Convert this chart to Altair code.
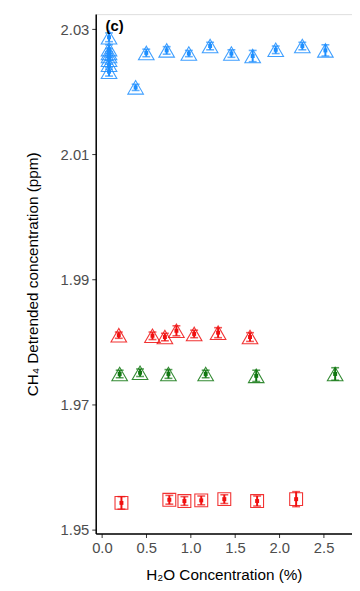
import altair as alt
import pandas as pd

# Blue triangles
blue_x = [0.08, 0.08, 0.08, 0.08, 0.08, 0.08, 0.08, 0.38, 0.50, 0.73, 0.98, 1.22, 1.46, 1.70, 1.96, 2.26, 2.52]
blue_y = [2.0287, 2.0268, 2.0262, 2.0257, 2.0251, 2.0243, 2.0232, 2.0207, 2.0262, 2.0266, 2.0261, 2.0273, 2.0261, 2.0257, 2.0267, 2.0273, 2.0266]
blue_e = [0.0007, 0.0007, 0.0007, 0.0007, 0.0007, 0.0007, 0.0007, 0.0005, 0.0006, 0.0006, 0.0005, 0.0006, 0.0006, 0.0009, 0.0006, 0.0006, 0.0009]

# Red triangles
redt_x = [0.19, 0.57, 0.71, 0.84, 1.04, 1.31, 1.67]
redt_y = [1.9811, 1.9810, 1.9808, 1.9818, 1.9813, 1.9815, 1.9808]
redt_e = [0.0005, 0.0006, 0.0006, 0.0008, 0.0006, 0.0008, 0.0007]

# Green triangles
green_x = [0.20, 0.43, 0.75, 1.17, 1.74, 2.63]
green_y = [1.9749, 1.9751, 1.9749, 1.9749, 1.9746, 1.9749]
green_e = [0.0006, 0.0006, 0.0007, 0.0006, 0.0009, 0.0010]

# Red squares
reds_x = [0.22, 0.76, 0.93, 1.12, 1.38, 1.75, 2.19]
reds_y = [1.9543, 1.9548, 1.9546, 1.9547, 1.9549, 1.9546, 1.9549]
reds_e = [0.0010, 0.0007, 0.0007, 0.0007, 0.0007, 0.0008, 0.0012]

groups = [
    ("blue", blue_x, blue_y, blue_e, "triangle-up", "#1E8FFF"),
    ("redt", redt_x, redt_y, redt_e, "triangle-up", "#F01010"),
    ("green", green_x, green_y, green_e, "triangle-up", "#117711"),
    ("reds", reds_x, reds_y, reds_e, "square", "#F01010"),
]

rows = []
for name, xs, ys, es, shp, col in groups:
    for x, y, e in zip(xs, ys, es):
        rows.append({"g": name, "x": x, "y": y, "lo": y - e, "hi": y + e, "shape": shp, "color": col})
df = pd.DataFrame(rows)

xs = alt.Scale(domain=[-0.07, 2.82], nice=False, zero=False)
ys = alt.Scale(domain=[1.9494, 2.0324], nice=False, zero=False)

xax = alt.Axis(values=[0, 0.5, 1.0, 1.5, 2.0, 2.5], format=".1f", title="H₂O Concentration (%)",
               grid=False, domainColor="black", domainWidth=1.5, tickColor="#333333", tickSize=4,
               labelColor="#4D4D4D", labelFontSize=15, labelFont="Liberation Sans",
               titleFont="Liberation Sans", titleFontSize=15.5, titleFontWeight="normal",
               titleColor="black", labelPadding=3, titlePadding=13)
yax = alt.Axis(values=[1.95, 1.97, 1.99, 2.01, 2.03], format=".2f",
               title="CH₄ Detrended concentration (ppm)",
               grid=False, domainColor="black", domainWidth=1.5, tickColor="#333333", tickSize=4,
               labelColor="#4D4D4D", labelFontSize=15, labelFont="Liberation Sans",
               titleFont="Liberation Sans", titleFontSize=15.5, titleFontWeight="normal",
               titleColor="black", labelPadding=3, titlePadding=20)

base = alt.Chart(df)

pts = base.mark_point(filled=False, strokeWidth=1.1, opacity=0.85).encode(
    x=alt.X("x:Q", scale=xs, axis=xax),
    y=alt.Y("y:Q", scale=ys, axis=yax),
    shape=alt.Shape("shape:N", scale=None),
    color=alt.Color("color:N", scale=None),
    size=alt.condition(alt.datum.shape == "square", alt.value(170), alt.value(250)),
)

rules = base.mark_rule(strokeWidth=2).encode(
    x="x:Q", y="lo:Q", y2="hi:Q",
    color=alt.Color("color:N", scale=None),
)
caps_lo = base.mark_tick(orient="horizontal", size=8, thickness=1.6).encode(
    x="x:Q", y="lo:Q", color=alt.Color("color:N", scale=None))
caps_hi = base.mark_tick(orient="horizontal", size=8, thickness=1.6).encode(
    x="x:Q", y="hi:Q", color=alt.Color("color:N", scale=None))
centers = base.mark_point(filled=True, shape="square", size=16, opacity=1).encode(
    x="x:Q", y="y:Q", color=alt.Color("color:N", scale=None))

label = alt.Chart(pd.DataFrame({"t": ["(c)"]})).mark_text(
    text="(c)", font="Liberation Sans", fontSize=15, fontWeight="bold", align="left",
    baseline="top", color="black").encode(x=alt.value(10), y=alt.value(5))

chart = alt.layer(pts, rules, caps_lo, caps_hi, centers, label).properties(
    width=260, height=527,
    autosize=alt.AutoSizeParams(type="none"),
    padding={"left": 89, "top": 2, "right": 0, "bottom": 50},
).configure_view(stroke="#DDDDDD", strokeWidth=1).configure(background="white")

chart.save("out.html", embed_options={"renderer": "svg", "actions": False})
